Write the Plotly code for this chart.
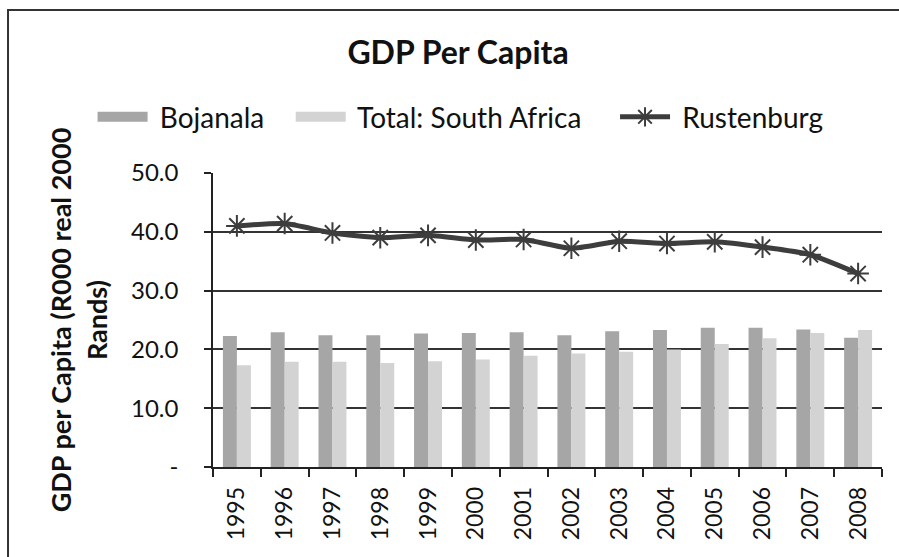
import plotly.graph_objects as go

years = ["1995", "1996", "1997", "1998", "1999", "2000", "2001",
         "2002", "2003", "2004", "2005", "2006", "2007", "2008"]
bojanala = [22.3, 22.9, 22.4, 22.4, 22.7, 22.8, 22.9,
            22.4, 23.1, 23.3, 23.7, 23.7, 23.4, 22.0]
south_africa = [17.3, 17.9, 17.9, 17.7, 18.0, 18.3, 18.9,
                19.3, 19.6, 20.0, 20.9, 21.9, 22.8, 23.3]
rustenburg = [41.0, 41.4, 39.8, 39.0, 39.4, 38.6, 38.7,
              37.2, 38.4, 38.0, 38.3, 37.4, 36.1, 32.9]
y_ticks = [0, 10, 20, 30, 40, 50]
y_tick_labels = ["-", "10.0", "20.0", "30.0", "40.0", "50.0"]

FONT = "Lato"
BOJ_COLOR = "#a6a6a6"
SA_COLOR = "#d3d3d3"
LINE_COLOR = "#3d3d3d"
NB = "\u00a0"

fig = go.Figure()
fig.add_trace(go.Bar(name="Bojanala", x=years, y=bojanala, legendgroup="boj",
                     showlegend=False,
                     marker=dict(color=BOJ_COLOR, line=dict(width=0))))
fig.add_trace(go.Bar(name="Total: South Africa", x=years, y=south_africa,
                     legendgroup="sa", showlegend=False,
                     marker=dict(color=SA_COLOR, line=dict(width=0))))
# legend entries with wide rectangular swatches for the bar series
fig.add_trace(go.Scatter(name=NB + "Bojanala" + NB * 3, x=[None], y=[None], mode="lines",
                         legendgroup="boj", line=dict(color=BOJ_COLOR, width=14)))
fig.add_trace(go.Scatter(name=NB + "Total: South Africa" + NB * 4, x=[None], y=[None],
                         mode="lines", legendgroup="sa",
                         line=dict(color=SA_COLOR, width=14)))
fig.add_trace(go.Scatter(name=NB + "Rustenburg", x=years, y=rustenburg,
                         mode="lines+markers",
                         line=dict(color=LINE_COLOR, width=5, shape="spline", smoothing=0.6),
                         marker=dict(symbol="asterisk-open", size=18,
                                     line=dict(color="#2e2e2e", width=2))))

# outer frame: only its top and left edges fall inside the picture
fig.add_shape(type="rect", xref="paper", yref="paper",
              x0=-0.3064, x1=1.2, y0=-0.5, y1=1.5544,
              line=dict(color="#333333", width=2), fillcolor="rgba(0,0,0,0)",
              layer="below")

fig.update_layout(
    width=899, height=557,
    margin=dict(l=213, r=17, t=173, b=90),
    paper_bgcolor="white", plot_bgcolor="white",
    barmode="group", bargap=0.415, bargroupgap=0,
    font=dict(family=FONT, color="#111111"),
    title=dict(text="<b>GDP Per Capita</b>", x=0.5095, xanchor="center",
               y=0.905, yanchor="middle",
               font=dict(family=FONT, size=32, color="#111111")),
    legend=dict(orientation="h", x=-0.18, xanchor="left",
                y=1.19, yanchor="middle",
                font=dict(family=FONT, size=28, color="#111111"),
                itemwidth=50, traceorder="normal"),
    showlegend=True,
)
fig.update_xaxes(
    type="category", tickangle=-90, range=[-0.5, len(years) - 0.5],
    tickfont=dict(family=FONT, size=23, color="#111111"),
    showline=True, linecolor="#222222", linewidth=1.5,
    ticks="outside", ticklen=8, tickcolor="#222222", tickwidth=1.5,
    tickson="boundaries", showgrid=False, ticklabelstandoff=9,
)
fig.update_yaxes(
    range=[0, 50], tickvals=y_ticks, ticktext=y_tick_labels,
    tickfont=dict(family=FONT, size=24, color="#111111"),
    showline=True, linecolor="#222222", linewidth=1.5,
    ticks="outside", ticklen=7, tickcolor="#222222", tickwidth=1.5,
    showgrid=True, gridcolor="#333333", gridwidth=1.5, zeroline=False,
    ticklabelstandoff=21,
    title=dict(text="<b>GDP per Capita (R000 real 2000<br>Rands)</b>",
               font=dict(family=FONT, size=27, color="#111111"), standoff=16),
)

fig.write_html("out.html")
